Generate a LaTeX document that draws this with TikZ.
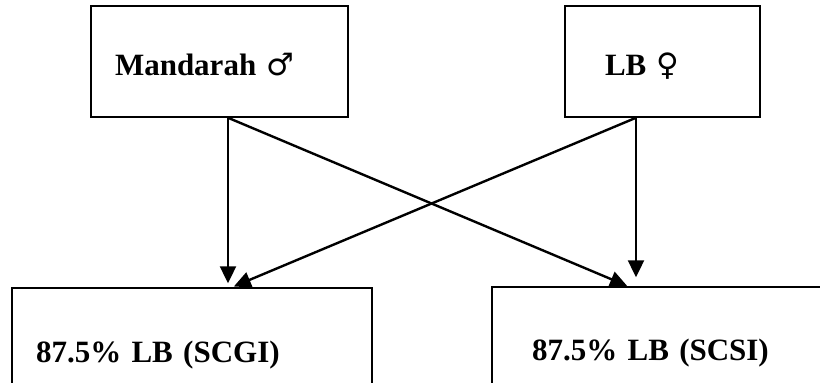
\documentclass[tikz,border=0pt]{standalone}
\usepackage{fontspec}
\setmainfont{Liberation Serif}
\newfontfamily\symfont{DejaVu Sans}
\usetikzlibrary{arrows.meta}
\newcommand{\malesym}{\smash{\symfont\mdseries\fontsize{31}{31}\selectfont ♂}}
\newcommand{\femalesym}{\smash{\symfont\mdseries\fontsize{31}{31}\selectfont ♀}}
\tikzset{
  box/.style={draw, line width=1.5pt, font=\fontsize{31}{37}\selectfont\bfseries, align=left, inner ysep=0pt},
  arr/.style={-{Triangle[length=17pt,width=16pt]}, line width=2.4pt},
}

\begin{document}
\begin{tikzpicture}[x=1pt,y=-1pt]
            \clip (0,0) rectangle (820,383);
            \node[box, minimum width=257pt, minimum height=111pt, inner xsep=24pt, text width=209pt, text height=27pt, text depth=0pt](mand) at (219.5,61.5) {Mandarah \malesym};
            \node[box, minimum width=195pt, minimum height=111pt, inner xsep=40pt, text width=115pt, text height=27pt, text depth=0pt](lb) at (662.5,61.5) {LB \femalesym};
            \node[box, minimum width=360pt, minimum height=128pt, inner xsep=24pt, text width=312pt, text height=20pt, text depth=0pt](scgi) at (192,352) {87.5\% LB (SCGI)};
            \node[box, minimum width=338pt, minimum height=126pt, inner xsep=40pt, text width=258pt, text height=20pt, text depth=0pt](scsi) at (661,350) {87.5\% LB (SCSI)};

            \coordinate (pm) at ([xshift=8.5pt]mand.south);
            \coordinate (pf) at ([xshift=-26.5pt]lb.south);

            \draw[arr, shorten >=4pt] (pm) -- (pm |- scgi.north);
            \draw[arr, shorten >=1pt] (pm) -- ([xshift=-33pt]scsi.north);
            \draw[arr, shorten >=9pt] (pf) -- (pf |- scsi.north);
            \draw[arr, shorten >=2pt] (pf) -- ([xshift=40pt]scgi.north);
          \end{tikzpicture}
\end{document}
